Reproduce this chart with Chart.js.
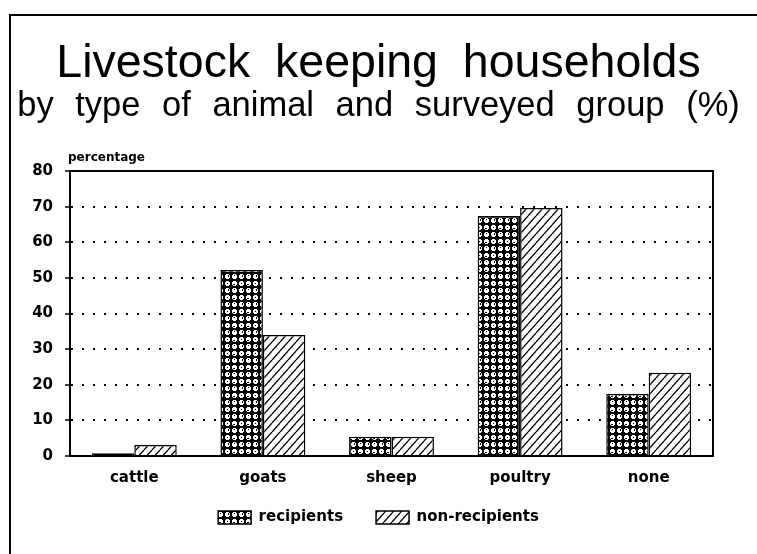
<!DOCTYPE html>
<html>
<head>
<meta charset="utf-8">
<script src="https://cdn.jsdelivr.net/npm/chart.js@4"></script>
<style>
  html, body { margin: 0; padding: 0; background: #fff; }
  #wrap { position: relative; width: 757px; height: 554px; overflow: hidden; }
  /* page frame around the figure */
  #frame { position: absolute; left: 9px; top: 14px; width: 800px; height: 600px;
           border-left: 2px solid #000; border-top: 2px solid #000; }
  #myChart { position: absolute; left: 0; top: 0; }
</style>
</head>
<body>
<div id="wrap">
  <div id="frame"></div>
  <canvas id="myChart" width="757" height="554"></canvas>
</div>
<script>
    // data
    const categories = ['cattle', 'goats', 'sheep', 'poultry', 'none'];
    const recipients = [0.8, 52.2, 5.4, 67.4, 17.4];
    const nonRecipients = [3.1, 34.0, 5.4, 69.6, 23.4];
    const yTicks = [0, 10, 20, 30, 40, 50, 60, 70, 80];

    const boldFont = { family: 'DejaVu Sans', weight: 'bold', size: 15 };

    // dense checkered fill
    function checkPattern() {
      const c = document.createElement('canvas');
      c.width = 14; c.height = 14;
      const g = c.getContext('2d');
      g.fillStyle = '#000';
      g.fillRect(0, 0, 14, 14);
      g.fillStyle = '#fff';
      const cells = [[0, 0], [7, 0], [0, 7], [7, 7]];
      cells.forEach(([x, y], i) => {
        g.fillRect(x + 2, y + 1, 3, 5);
        g.fillRect(x + 1, y + 2, 5, 3);
        g.fillStyle = '#000';
        if (i === 0) g.fillRect(x + 3, y + 3, 1, 1);
        if (i === 1) g.fillRect(x + 2, y + 4, 2, 1);
        if (i === 2) g.fillRect(x + 4, y + 2, 1, 2);
        if (i === 3) g.fillRect(x + 3, y + 2, 1, 1);
        g.fillStyle = '#fff';
      });
      return g.createPattern(c, 'repeat');
    }

    // "/" hatch fill
    function hatchPattern() {
      const w = 8, h = 9;
      const c = document.createElement('canvas');
      c.width = w; c.height = h;
      const g = c.getContext('2d');
      g.fillStyle = '#fff';
      g.fillRect(0, 0, w, h);
      g.strokeStyle = '#000';
      g.lineWidth = 1.3;
      for (let k = -1; k <= 1; k++) {
        g.beginPath();
        g.moveTo(k * w, h);
        g.lineTo(k * w + w, 0);
        g.stroke();
      }
      return g.createPattern(c, 'repeat');
    }

    // wide word gaps in the headings
    const headingSpacing = {
      id: 'headingSpacing',
      beforeDraw(chart) { chart.ctx.wordSpacing = '12px'; },
      afterDraw(chart) { chart.ctx.wordSpacing = '0px'; }
    };

    // pull the legend row a little closer to the category labels
    const legendLift = {
      id: 'legendLift',
      afterLayout(chart) {
        const lg = chart.legend;
        if (lg) { lg.top -= 11; lg.bottom -= 11; }
      }
    };

    // solid box around the plot and the small axis caption
    const plotFrame = {
      id: 'plotFrame',
      afterDraw(chart) {
        const { ctx, chartArea: a } = chart;
        ctx.save();
        ctx.strokeStyle = '#000';
        ctx.lineWidth = 2;
        ctx.beginPath();
        ctx.moveTo(a.left, a.top);
        ctx.lineTo(a.right, a.top);
        ctx.lineTo(a.right, a.bottom);
        ctx.stroke();
        ctx.fillStyle = '#000';
        ctx.font = 'bold 12px "DejaVu Sans"';
        ctx.textAlign = 'left';
        ctx.textBaseline = 'alphabetic';
        ctx.fillText('percentage', a.left - 2, a.top - 10);
        ctx.restore();
      }
    };

    const data = {
      labels: categories,
      datasets: [{
        label: 'recipients',
        data: recipients,
        backgroundColor: checkPattern(),
        borderColor: '#000',
        borderWidth: 1.5
      },
      {
        label: 'non-recipients',
        data: nonRecipients,
        backgroundColor: hatchPattern(),
        borderColor: '#000',
        borderWidth: 1.5
      }]
    };

    const config = {
      type: 'bar',
      data,
      plugins: [headingSpacing, legendLift, plotFrame],
      options: {
        responsive: false,
        animation: false,
        categoryPercentage: 0.66,
        barPercentage: 1,
        layout: { padding: { left: 0, right: 0, top: 0, bottom: 8 } },
        plugins: {
          title: {
            display: true,
            text: 'Livestock keeping households',
            color: '#000',
            font: { family: 'Liberation Sans', size: 46.5, weight: 'normal', lineHeight: 1 },
            padding: { top: 41, bottom: 0 }
          },
          subtitle: {
            display: true,
            text: 'by type of animal and surveyed group (%)',
            color: '#000',
            font: { family: 'Liberation Sans', size: 34.5, weight: 'normal', lineHeight: 1 },
            padding: { top: 2, bottom: 47 }
          },
          legend: {
            position: 'bottom',
            labels: {
              color: '#000',
              font: boldFont,
              boxWidth: 33,
              boxHeight: 13,
              padding: 33
            }
          },
          tooltip: { enabled: false }
        },
        scales: {
          x: {
            grid: { display: false, drawTicks: false },
            border: { color: '#000', width: 2 },
            ticks: { color: '#000', font: boldFont, padding: 13 },
            afterFit(scale) { scale.height = 32; }
          },
          y: {
            min: 0,
            max: 80,
            afterBuildTicks(scale) { scale.ticks = yTicks.map(v => ({ value: v })); },
            grid: {
              color: ctx => (ctx.tick && (ctx.tick.value === 0 || ctx.tick.value === 80)) ? 'rgba(0,0,0,0)' : '#000',
              lineWidth: 2,
              tickColor: '#000',
              tickLength: 5,
              tickWidth: 1.5
            },
            border: { color: '#000', width: 2, dash: [2, 9] },
            ticks: { color: '#000', font: boldFont, padding: 12 },
            afterFit(scale) { scale.width = 70; }
          },
          // empty right-hand margin so the headings centre on the page
          yRight: {
            type: 'linear',
            position: 'right',
            grid: { display: false, drawTicks: false },
            border: { display: false },
            ticks: { display: false },
            afterFit(scale) { scale.width = 44; }
          }
        }
      }
    };

    const myChart = new Chart(document.getElementById('myChart'), config);
</script>
</body>
</html>
